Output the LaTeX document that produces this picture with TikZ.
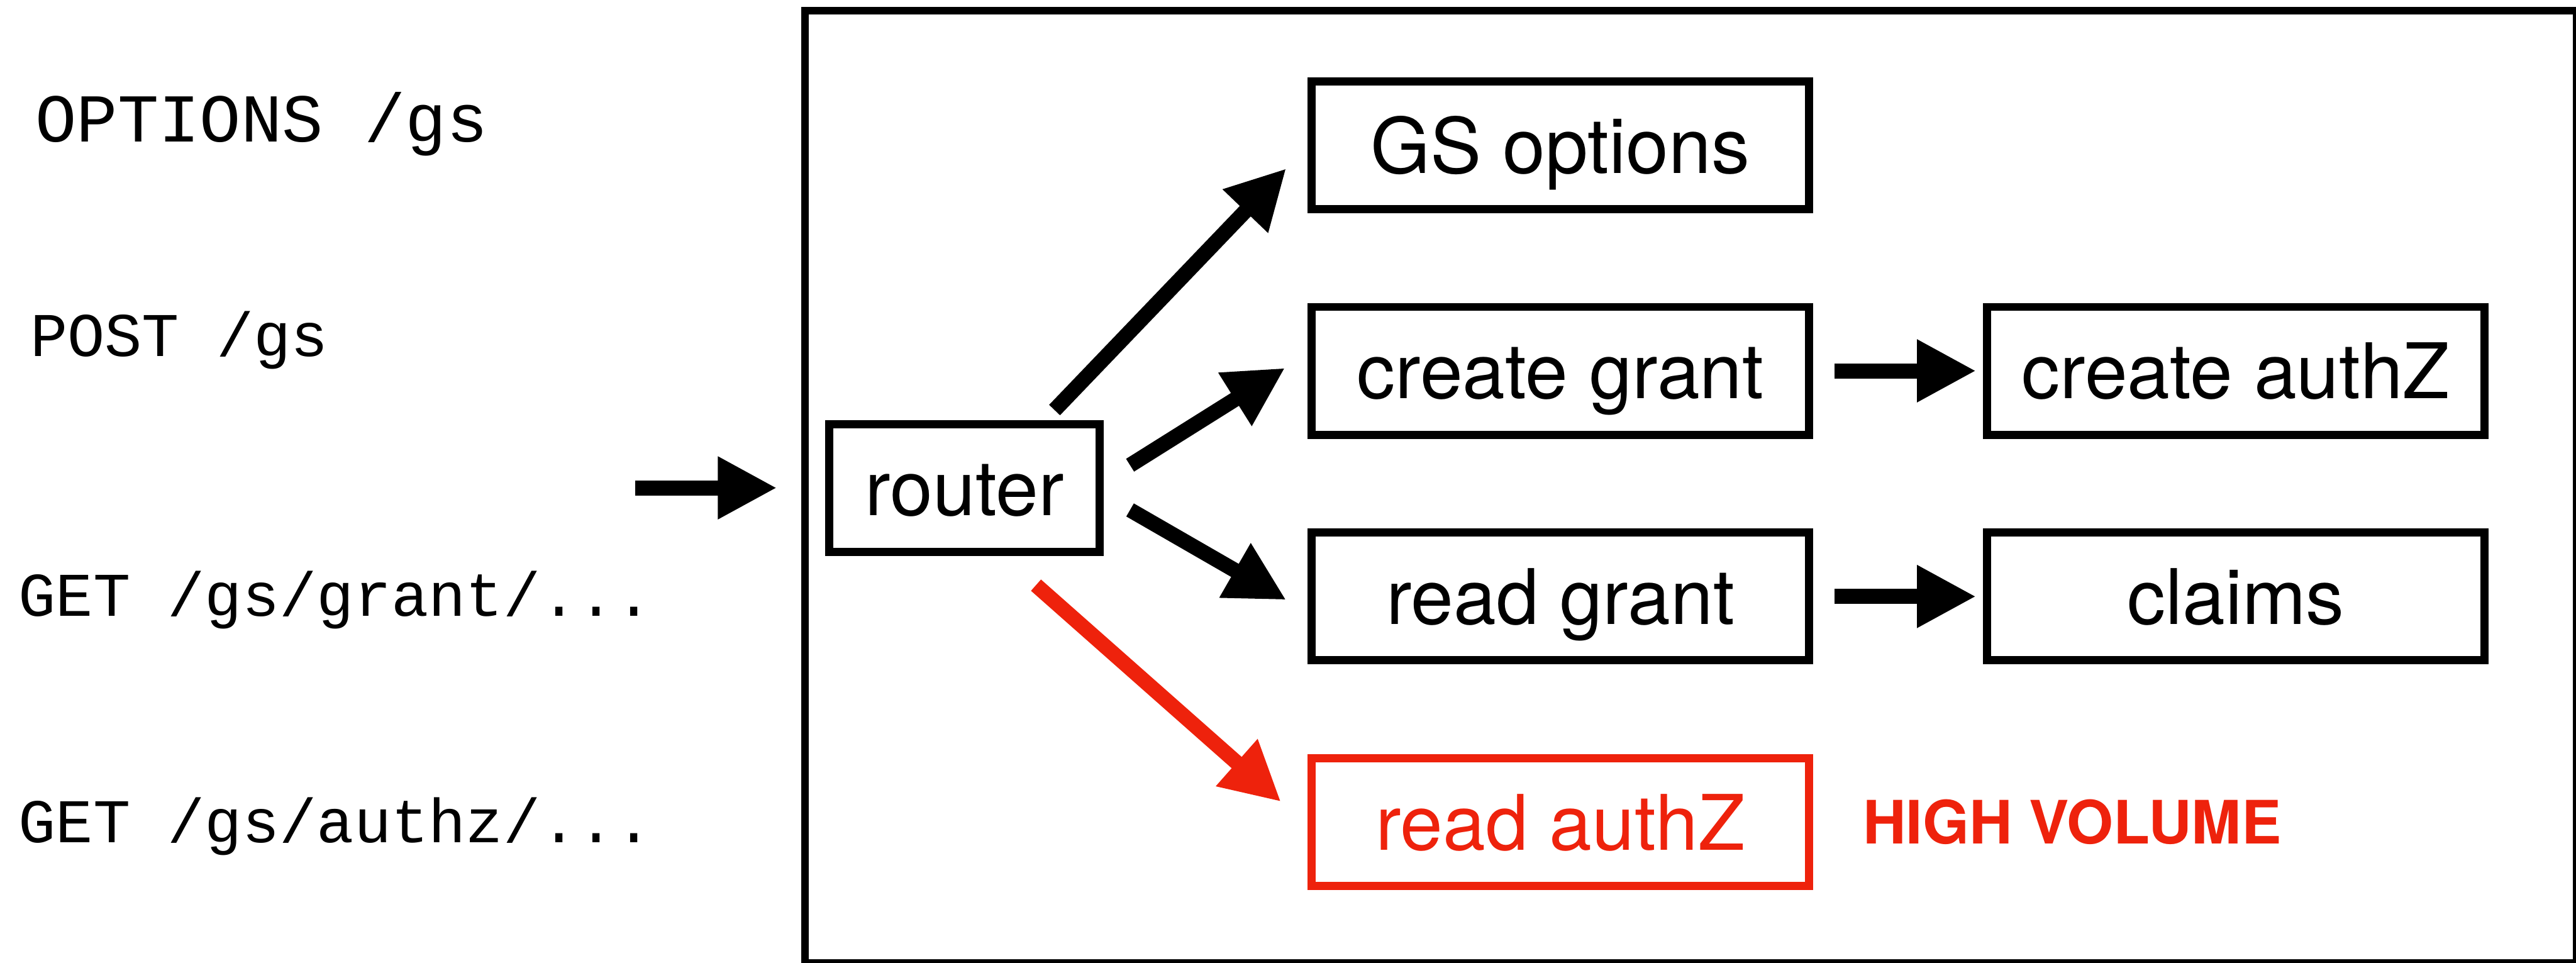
\documentclass[tikz,border=0pt]{standalone}
\usepackage{fontspec}
\setmainfont{TeX Gyre Heros}
\setmonofont{Liberation Mono}
\usetikzlibrary{arrows.meta,positioning}
\definecolor{keynotered}{RGB}{238,34,12}
\tikzset{
  modulo/.style={
    draw,
    line width=1.4pt,
    minimum width=85.6pt,
    minimum height=22pt,
    inner sep=0pt,
    text height=12.5pt,
    text depth=2.9pt,
    font=\fontsize{13.2pt}{15pt}\selectfont
  },
  ruta/.style={
    anchor=base west,
    inner sep=0pt,
    font=\ttfamily\fontsize{10.7pt}{12pt}\selectfont
  },
  arrow/.style={
    -{Triangle[length=10.2pt,width=10.1pt]},
    line width=2.6pt
  }
}

\begin{document}
\begin{tikzpicture}[x=1pt,y=1pt,node distance=15.45pt and 29.3pt]
\useasboundingbox (0,0) rectangle (443.6,-165.8);
% marco del servidor
\draw[line width=1.3pt] (138.6,-1.85) rectangle (443.65,-165.85);
% peticiones
\node[ruta, font=\ttfamily\fontsize{11.8pt}{13pt}\selectfont] (opt) at (5.9,-24.4) {OPTIONS /gs};
\node[ruta] (post) at (5.0,-61.3) {POST /gs};
\node[ruta] (getg) at (3.0,-106.1) {GET /gs/grant/...};
\node[ruta] (geta) at (3.0,-145.1) {GET /gs/authz/...};
% modulos
\node[modulo, minimum width=46.6pt] (router) at (166.1,-84) {router};
\node[modulo] (gs) at (268.7,-25) {GS options};
\node[modulo, below=of gs] (cgrant) {create grant};
\node[modulo, below=of cgrant] (rgrant) {read grant};
\node[modulo, below=of rgrant, draw=keynotered, text=keynotered] (rauthz) {read authZ};
\node[modulo, right=of cgrant] (cauthz) {create authZ};
\node[modulo, right=of rgrant] (claims) {claims};
\node[right=8.6pt of rauthz, inner sep=0pt, outer sep=0pt, text=keynotered,
      font=\bfseries\fontsize{10.3pt}{12pt}\selectfont] (alto) {HIGH VOLUME};
% flechas
\coordinate (entrada) at (109.4,-84);
\draw[arrow, shorten >=8.3pt] (entrada) -- (router);
\draw[arrow] ([shift={(-8.5,1.7)}]router.north east) -- ([shift={(-3.7,-4)}]gs.west);
\draw[arrow] ([shift={(4.5,3.9)}]router.east) -- ([shift={(-3.9,0.5)}]cgrant.west);
\draw[arrow] ([shift={(4.5,-3.8)}]router.east) -- ([shift={(-3.7,-0.6)}]rgrant.west);
\draw[arrow, keynotered] ([shift={(-11.7,-5.05)}]router.south east) -- ([shift={(-4.6,3.5)}]rauthz.west);
\draw[arrow, shorten <=3.7pt, shorten >=1.2pt] (cgrant) -- (cauthz);
\draw[arrow, shorten <=3.7pt, shorten >=1.2pt] (rgrant) -- (claims);
\end{tikzpicture}
\end{document}
